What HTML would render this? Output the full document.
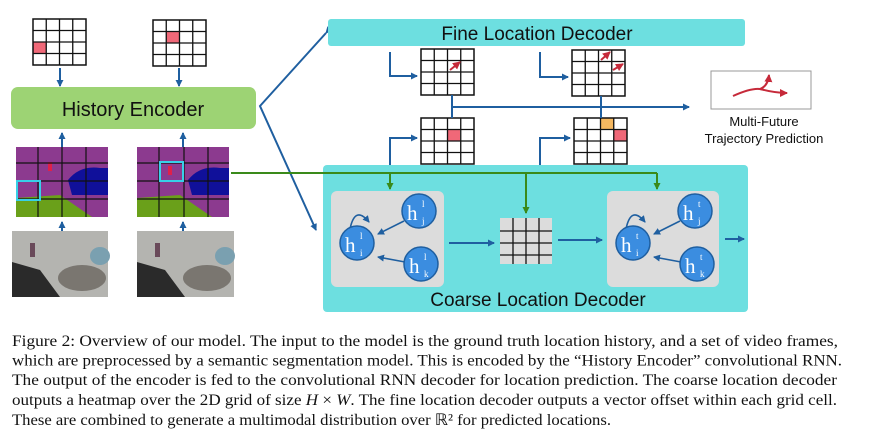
<!DOCTYPE html>
<html><head><meta charset="utf-8"><style>
body{margin:0;background:#fff;width:881px;height:433px;overflow:hidden;position:relative}
svg{position:absolute;left:0;top:0}
</style></head><body>
<svg width="881" height="433" viewBox="0 0 881 433" font-family="Liberation Sans, sans-serif">
<defs>
<marker id="ab" markerWidth="8" markerHeight="8" refX="6" refY="4" orient="auto" markerUnits="userSpaceOnUse"><path d="M0,0.5 L7,4 L0,7.5z" fill="#1f5fa0"/></marker>
<marker id="ag" markerWidth="8" markerHeight="8" refX="6" refY="4" orient="auto" markerUnits="userSpaceOnUse"><path d="M0,0.5 L7,4 L0,7.5z" fill="#3a8a1a"/></marker>
<marker id="ar" markerWidth="10" markerHeight="10" refX="7" refY="4" orient="auto" markerUnits="userSpaceOnUse"><path d="M0,0 L8,4 L0,8z" fill="#c62a3a"/></marker>
<g id="g4"><rect x="0" y="0" width="53" height="46" fill="none" stroke="#111" stroke-width="1.5"/><path d="M13.25 0V46M26.5 0V46M39.75 0V46M0 11.5H53M0 23H53M0 34.5H53" stroke="#111" stroke-width="1.3"/></g>
</defs>
<rect x="33" y="42" width="13" height="12" fill="#f06878"/>
<use href="#g4" x="33" y="19"/>
<rect x="166" y="31" width="13" height="12" fill="#f06878"/>
<use href="#g4" x="153" y="20"/>
<line x1="60" y1="68" x2="60" y2="86" stroke="#1f5fa0" stroke-width="2" marker-end="url(#ab)"/>
<line x1="179" y1="68" x2="179" y2="86" stroke="#1f5fa0" stroke-width="2" marker-end="url(#ab)"/>
<rect x="11" y="87" width="245" height="42" rx="7" fill="#9dd374"/>
<text x="133" y="116" font-size="20" text-anchor="middle" fill="#111">History Encoder</text>
<line x1="62" y1="152" x2="62" y2="133" stroke="#1f5fa0" stroke-width="2" marker-end="url(#ab)"/>
<line x1="183" y1="152" x2="183" y2="133" stroke="#1f5fa0" stroke-width="2" marker-end="url(#ab)"/>
<g>
<rect x="16" y="147" width="92" height="70" fill="#8c3a8f"/>
<path d="M16 198 L60 195 L92 217 L16 217z" fill="#6aa01a"/>
<path d="M68 180 Q80 165 100 168 L108 168 L108 195 L72 195z" fill="#10109a"/>
<rect x="48" y="162" width="4" height="9" fill="#e0204a"/>
<path d="M16 163H108M16 181H108M16 199H108M38 147V217M62 147V217M86 147V217" stroke="#111" stroke-width="1.2"/>
<rect x="17" y="181" width="23" height="19" fill="none" stroke="#38d0e8" stroke-width="2"/>
</g>
<g>
<rect x="137" y="147" width="92" height="70" fill="#8c3a8f"/>
<path d="M137 198 L180 195 L212 217 L137 217z" fill="#6aa01a"/>
<path d="M188 180 Q200 165 220 168 L229 168 L229 195 L192 195z" fill="#10109a"/>
<rect x="168" y="166" width="4" height="9" fill="#e0204a"/>
<path d="M137 163H229M137 181H229M137 199H229M159 147V217M184 147V217M208 147V217" stroke="#111" stroke-width="1.2"/>
<rect x="160" y="162" width="23" height="19" fill="none" stroke="#38d0e8" stroke-width="2"/>
</g>
<line x1="62" y1="245" x2="62" y2="222" stroke="#1f5fa0" stroke-width="2" marker-end="url(#ab)"/>
<line x1="183" y1="245" x2="183" y2="222" stroke="#1f5fa0" stroke-width="2" marker-end="url(#ab)"/>
<g>
<rect x="12" y="231" width="96" height="66" fill="#b4b4b0"/>
<path d="M12 262 L40 270 L60 297 L12 297z" fill="#2a2a2a"/>
<ellipse cx="82" cy="278" rx="24" ry="13" fill="#7a7670"/>
<ellipse cx="100" cy="256" rx="10" ry="9" fill="#7aa0b0"/>
<rect x="30" y="243" width="5" height="14" fill="#6a4a5a"/>
</g>
<g>
<rect x="137" y="231" width="97" height="66" fill="#b4b4b0"/>
<path d="M137 262 L165 270 L185 297 L137 297z" fill="#2a2a2a"/>
<ellipse cx="207" cy="278" rx="24" ry="13" fill="#7a7670"/>
<ellipse cx="225" cy="256" rx="10" ry="9" fill="#7aa0b0"/>
<rect x="155" y="243" width="5" height="14" fill="#6a4a5a"/>
</g>
<polyline points="326,33 260,106 316,230" fill="none" stroke="#1f5fa0" stroke-width="2" marker-start="url(#ab)" marker-end="url(#ab)"/>
<rect x="328" y="19" width="417" height="27" rx="3" fill="#6ddfe0"/>
<text x="537" y="40" font-size="19" text-anchor="middle" fill="#111">Fine Location Decoder</text>
<rect x="323" y="165" width="425" height="147" rx="4" fill="#6ddfe0"/>
<text x="538" y="306" font-size="19" text-anchor="middle" fill="#111">Coarse Location Decoder</text>
<rect x="331" y="191" width="113" height="96" rx="6" fill="#dcdcdc"/>
<rect x="607" y="191" width="112" height="96" rx="6" fill="#dcdcdc"/>
<rect x="500" y="218" width="52" height="46" fill="#dcdcdc"/>
<path d="M500 231H552M500 243H552M500 255H552M513 218V264M526 218V264M539 218V264" stroke="#111" stroke-width="1.3"/>
<line x1="449" y1="243" x2="494" y2="243" stroke="#1f5fa0" stroke-width="2" marker-end="url(#ab)"/>
<line x1="558" y1="240" x2="602" y2="240" stroke="#1f5fa0" stroke-width="2" marker-end="url(#ab)"/>
<line x1="725" y1="239" x2="744" y2="239" stroke="#1f5fa0" stroke-width="2" marker-end="url(#ab)"/>
<g font-family="Liberation Serif, serif" fill="#fff">
<g stroke="#1f5fa0" stroke-width="1.6">
<line x1="404" y1="221" x2="378" y2="234" marker-end="url(#ab)"/>
<line x1="405" y1="262" x2="378" y2="257" marker-end="url(#ab)"/>
<path d="M350 229 Q355 205 369 222" fill="none" marker-end="url(#ab)"/>
<line x1="680" y1="221" x2="654" y2="234" marker-end="url(#ab)"/>
<line x1="681" y1="262" x2="654" y2="257" marker-end="url(#ab)"/>
<path d="M626 229 Q631 205 645 222" fill="none" marker-end="url(#ab)"/>
</g>
<g fill="#3b8de0" stroke="#1f5fa0" stroke-width="1.5">
<circle cx="357" cy="243" r="17"/><circle cx="419" cy="211" r="17"/><circle cx="421" cy="264" r="17"/>
<circle cx="633" cy="243" r="17"/><circle cx="695" cy="211" r="17"/><circle cx="697" cy="264" r="17"/>
</g>
<g font-size="21">
<text x="345" y="252">h</text><text x="407" y="220">h</text><text x="409" y="273">h</text>
<text x="621" y="252">h</text><text x="683" y="220">h</text><text x="685" y="273">h</text>
</g>
<g font-size="9">
<text x="360" y="239">l</text><text x="360" y="256">i</text>
<text x="422" y="207">l</text><text x="422" y="224">j</text>
<text x="424" y="260">l</text><text x="424" y="277">k</text>
<text x="636" y="239">t</text><text x="636" y="256">i</text>
<text x="698" y="207">t</text><text x="698" y="224">j</text>
<text x="700" y="260">t</text><text x="700" y="277">k</text>
</g>
</g>
<rect x="447" y="129" width="13" height="12" fill="#f06878"/>
<use href="#g4" x="421" y="118"/>
<rect x="601" y="118" width="13" height="12" fill="#f5b860"/>
<rect x="614" y="129" width="13" height="12" fill="#f06878"/>
<use href="#g4" x="574" y="118"/>
<use href="#g4" x="421" y="49"/>
<use href="#g4" x="572" y="50"/>
<line x1="450" y1="70" x2="460" y2="62" stroke="#c62a3a" stroke-width="2" marker-end="url(#ar)"/>
<line x1="601" y1="60" x2="610" y2="52" stroke="#c62a3a" stroke-width="2" marker-end="url(#ar)"/>
<line x1="613" y1="70" x2="623" y2="64" stroke="#c62a3a" stroke-width="2" marker-end="url(#ar)"/>
<polyline points="390,52 390,76 417,76" fill="none" stroke="#1f5fa0" stroke-width="2" marker-end="url(#ab)"/>
<polyline points="540,52 540,77 568,77" fill="none" stroke="#1f5fa0" stroke-width="2" marker-end="url(#ab)"/>
<polyline points="390,165 390,138 417,138" fill="none" stroke="#1f5fa0" stroke-width="2" marker-end="url(#ab)"/>
<polyline points="540,165 540,138 570,138" fill="none" stroke="#1f5fa0" stroke-width="2" marker-end="url(#ab)"/>
<line x1="452" y1="95" x2="452" y2="118" stroke="#1f5fa0" stroke-width="2"/>
<line x1="601" y1="96" x2="601" y2="118" stroke="#1f5fa0" stroke-width="2"/>
<line x1="452" y1="107" x2="689" y2="107" stroke="#1f5fa0" stroke-width="2" marker-end="url(#ab)"/>
<polyline points="231,173 657,173" fill="none" stroke="#3a8a1a" stroke-width="2"/>
<line x1="390" y1="173" x2="390" y2="189" stroke="#3a8a1a" stroke-width="2" marker-end="url(#ag)"/>
<line x1="526" y1="173" x2="526" y2="213" stroke="#3a8a1a" stroke-width="2" marker-end="url(#ag)"/>
<line x1="657" y1="173" x2="657" y2="189" stroke="#3a8a1a" stroke-width="2" marker-end="url(#ag)"/>
<rect x="711" y="71" width="100" height="38" fill="#fff" stroke="#999" stroke-width="1"/>
<path d="M733 96 Q755 86 764 90" fill="none" stroke="#c62a3a" stroke-width="2"/>
<path d="M760 89 Q768 86 769 75" fill="none" stroke="#c62a3a" stroke-width="2" marker-end="url(#ar)"/>
<path d="M760 89 Q775 93 787 93" fill="none" stroke="#c62a3a" stroke-width="2" marker-end="url(#ar)"/>
<text x="764" y="126" font-size="13" text-anchor="middle" fill="#111">Multi-Future</text>
<text x="764" y="143" font-size="13" text-anchor="middle" fill="#111">Trajectory Prediction</text>
<g font-family="Liberation Serif, serif" font-size="16" fill="#111" lengthAdjust="spacingAndGlyphs">
<text x="12" y="346" textLength="826" lengthAdjust="spacingAndGlyphs">Figure 2: Overview of our model. The input to the model is the ground truth location history, and a set of video frames,</text>
<text x="12" y="365.5" textLength="830" lengthAdjust="spacingAndGlyphs">which are preprocessed by a semantic segmentation model. This is encoded by the “History Encoder” convolutional RNN.</text>
<text x="12" y="385" textLength="825" lengthAdjust="spacingAndGlyphs">The output of the encoder is fed to the convolutional RNN decoder for location prediction. The coarse location decoder</text>
<text x="12" y="405" textLength="825" lengthAdjust="spacingAndGlyphs">outputs a heatmap over the 2D grid of size <tspan font-style="italic">H</tspan> × <tspan font-style="italic">W</tspan>. The fine location decoder outputs a vector offset within each grid cell.</text>
<text x="12" y="425" textLength="599" lengthAdjust="spacingAndGlyphs">These are combined to generate a multimodal distribution over ℝ² for predicted locations.</text>
</g>
</svg>
</body></html>
